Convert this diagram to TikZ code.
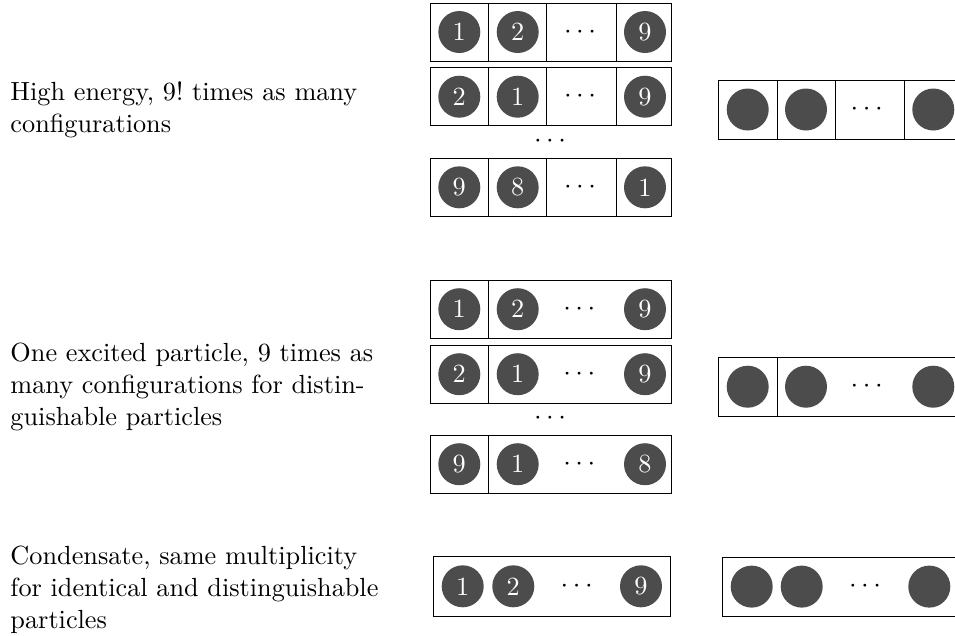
\documentclass[tikz,border=0pt]{standalone}
\begin{document}
\begin{tikzpicture}[x=0.4pt,y=-0.4pt,
  every node/.style={font=\fontsize{10.5}{12.7}\selectfont},
  ball/.style={circle,fill=black!70,text=white,minimum size=16.8pt,inner sep=0pt},
  gap/.style={inner sep=0pt},
  caption/.style={anchor=west,inner sep=0pt,text width=152pt,align=left},
  frame/.style={draw=black,line width=0.4pt}]
\clip (0,0) rectangle (955,635);

% ---------- high energy: every cell holds its own particle ----------
\foreach \t/\p/\q/\r/\k in {3/1/2/9/a, 67.7/2/1/9/b, 158.3/9/8/1/c}{
  \draw[frame] (430,\t) rectangle (671.7,\t+58);
  \draw[frame] (488.3,\t) -- (488.3,\t+58) (546.7,\t) -- (546.7,\t+58) (616,\t) -- (616,\t+58);
  \node[ball] (h\k1) at (459.3,\t+29) {\p};
  \node[ball] (h\k2) at (517.7,\t+29) {\q};
  \node[gap]  (h\k3) at (580,\t+29) {$\cdots$};
  \node[ball] (h\k4) at (645,\t+29) {\r};
}
\node[gap] (hvdots) at (550,141.7) {$\cdots$};

\draw[frame] (718.3,80) rectangle (962,139);
\draw[frame] (777.3,80) -- (777.3,139) (835.7,80) -- (835.7,139) (904.3,80) -- (904.3,139);
\node[ball] (hi1) at (747.7,109.5) {};
\node[ball] (hi2) at (806,109.5) {};
\node[gap]  (hi3) at (866.7,109.5) {$\cdots$};
\node[ball] (hi4) at (933.3,109.5) {};

\node[caption] (caphigh) at (10,110) {High energy, 9!\ times as many configurations};

% ---------- one excited particle ----------
\foreach \t/\p/\q/\r/\k in {280/1/2/9/a, 345/2/1/9/b, 435/9/1/8/c}{
  \draw[frame] (430,\t) rectangle (671.7,\t+58.3);
  \draw[frame] (488.3,\t) -- (488.3,\t+58.3);
  \node[ball] (e\k1) at (459.3,\t+29.2) {\p};
  \node[ball] (e\k2) at (517.7,\t+29.2) {\q};
  \node[gap]  (e\k3) at (579.3,\t+29.2) {$\cdots$};
  \node[ball] (e\k4) at (645,\t+29.2) {\r};
}
\node[gap] (evdots) at (550,418.3) {$\cdots$};

\draw[frame] (718.3,357.3) rectangle (962,416);
\draw[frame] (777.3,357.3) -- (777.3,416);
\node[ball] (ei1) at (747.7,386.7) {};
\node[ball] (ei2) at (806,386.7) {};
\node[gap]  (ei3) at (866.7,386.7) {$\cdots$};
\node[ball] (ei4) at (933.3,386.7) {};

\node[caption] (capone) at (10,387) {One excited particle, 9 times as many configurations for distinguishable particles};

% ---------- condensate ----------
\draw[frame] (433.3,556.7) rectangle (670.7,616);
\node[ball] (c1) at (462.7,586.3) {1};
\node[ball] (c2) at (513.3,586.3) {2};
\node[gap]  (c3) at (576.7,586.3) {$\cdots$};
\node[ball] (c4) at (641,586.3) {9};

\draw[frame] (722.3,557.3) rectangle (959,616);
\node[ball] (ci1) at (751.7,586.6) {};
\node[ball] (ci2) at (801.7,586.6) {};
\node[gap]  (ci3) at (865,586.6) {$\cdots$};
\node[ball] (ci4) at (929.3,586.6) {};

\node[caption] (capcond) at (10,590) {Condensate, same multiplicity for identical and distinguishable particles};
\end{tikzpicture}
\end{document}
